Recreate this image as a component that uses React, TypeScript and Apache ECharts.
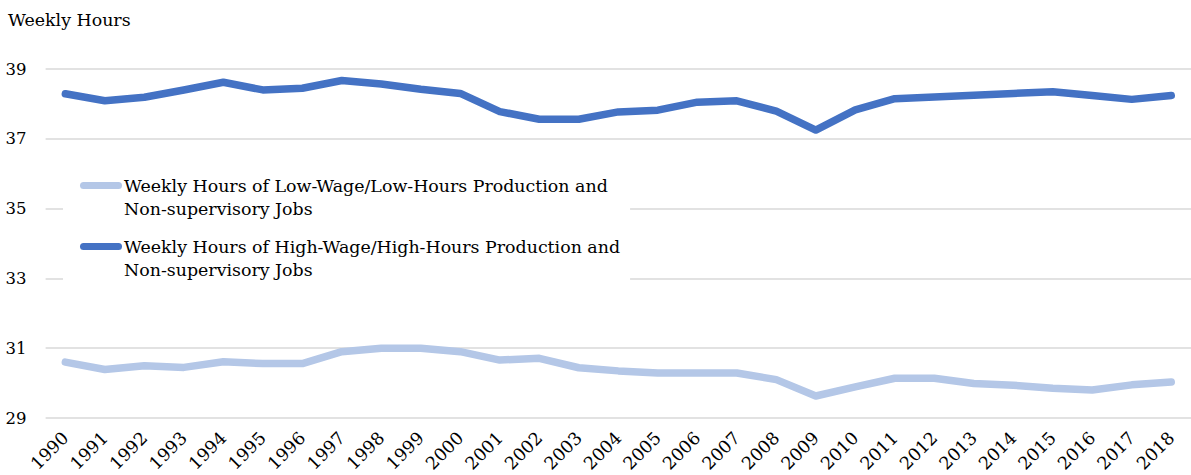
import React, { useEffect, useRef } from "react";
import * as echarts from "echarts";

const years = [
  "1990","1991","1992","1993","1994","1995","1996","1997","1998","1999",
  "2000","2001","2002","2003","2004","2005","2006","2007","2008","2009",
  "2010","2011","2012","2013","2014","2015","2016","2017","2018",
];

const lowWageHours = [
  30.6, 30.39, 30.5, 30.45, 30.61, 30.56, 30.56, 30.9, 31.0, 31.0,
  30.9, 30.66, 30.71, 30.44, 30.35, 30.29, 30.29, 30.29, 30.1, 29.63,
  29.89, 30.14, 30.14, 29.99, 29.94, 29.85, 29.8, 29.95, 30.03,
];

const highWageHours = [
  38.29, 38.09, 38.19, 38.4, 38.62, 38.4, 38.45, 38.67, 38.57, 38.42,
  38.3, 37.78, 37.56, 37.56, 37.77, 37.82, 38.05, 38.09, 37.79, 37.25,
  37.83, 38.15, 38.2, 38.25, 38.3, 38.35, 38.24, 38.13, 38.24,
];

const lowName = "Weekly Hours of Low-Wage/Low-Hours Production and\nNon-supervisory Jobs";
const highName = "Weekly Hours of High-Wage/High-Hours Production and\nNon-supervisory Jobs";

const FONT = "DejaVu Serif";
const LINE_H = 23;

export default function App() {
  const ref = useRef<HTMLDivElement>(null);
  useEffect(() => {
    if (!ref.current) return;
    const chart = echarts.init(ref.current, undefined, { renderer: "svg" });
    const icon =
      "path://M3.5,0 L38.5,0 A3.5,3.5 0 0 1 38.5,7 L3.5,7 A3.5,3.5 0 0 1 3.5,0 Z";
    chart.setOption({
      animation: false,
      textStyle: { fontFamily: FONT },
      title: {
        text: "Weekly Hours",
        left: 3,
        top: 6,
        textStyle: { fontFamily: FONT, fontSize: 17.4, fontWeight: "normal", color: "#000" },
      },
      legend: {
        orient: "vertical",
        left: 63,
        top: 151,
        backgroundColor: "#fff",
        padding: [0, 10, 6, 17],
        itemGap: -8,
        itemWidth: 42,
        itemHeight: 7,
        data: [
          { name: lowName, icon },
          { name: highName, icon },
        ],
        formatter: (name: string) => "\n" + name,
        textStyle: {
          fontFamily: FONT,
          fontSize: 17.4,
          color: "#000",
          lineHeight: LINE_H,
          padding: [0, 0, 0, -3],
        },
      },
      grid: { left: 45.6, top: 69, width: 1152.5, height: 349, containLabel: false },
      xAxis: {
        type: "category",
        data: years,
        boundaryGap: true,
        axisTick: { show: false },
        axisLine: { show: false },
        axisLabel: {
          rotate: 45,
          margin: 17,
          fontFamily: FONT,
          fontSize: 17.5,
          color: "#000",
          interval: 0,
        },
      },
      yAxis: {
        type: "value",
        min: 29,
        max: 39,
        interval: 2,
        axisLine: { show: false },
        axisTick: { show: false },
        axisLabel: { margin: 19, fontFamily: FONT, fontSize: 16.5, color: "#000" },
        splitLine: { lineStyle: { color: "#d9d9d9", width: 1.5 } },
      },
      series: [
        {
          name: lowName,
          type: "line",
          data: lowWageHours,
          symbol: "none",
          itemStyle: { color: "#B4C7E7" },
          lineStyle: { color: "#B4C7E7", width: 7.5, cap: "round", join: "round" },
        },
        {
          name: highName,
          type: "line",
          data: highWageHours,
          symbol: "none",
          itemStyle: { color: "#4472C4" },
          lineStyle: { color: "#4472C4", width: 7.5, cap: "round", join: "round" },
        },
      ],
    });
    return () => chart.dispose();
  }, []);
  return (
    <div
      ref={ref}
      style={{ position: "absolute", left: 0, top: 0, width: 1191, height: 475 }}
    />
  );
}
